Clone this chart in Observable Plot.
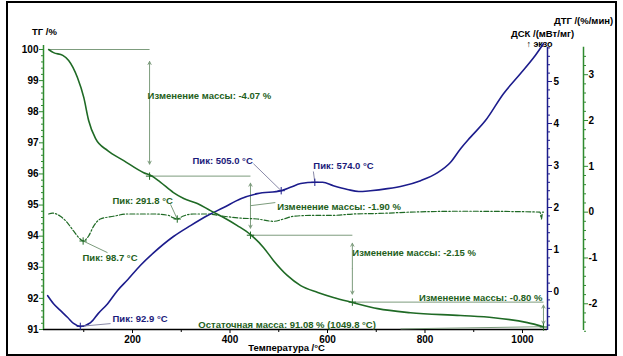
<!DOCTYPE html>
<html><head><meta charset="utf-8">
<script src="https://cdn.jsdelivr.net/npm/d3@7"></script>
<script src="https://cdn.jsdelivr.net/npm/@observablehq/plot@0.6"></script>
<style>
body{margin:0;background:#fff;}
#wrap{position:relative;width:623px;height:356px;overflow:hidden;background:#fff;}
#border{position:absolute;left:6px;top:1px;width:607px;height:351px;border:2px solid #000;pointer-events:none;}
</style></head><body>
<div id="wrap"><div id="border"></div></div>
<script>
// ---- TG (mass, %) ----
const tgTemp = [28, 38, 57, 69, 87, 100, 110, 124, 149, 182, 223, 240, 257, 284, 305, 333, 360, 387, 415, 442, 469, 489, 518, 545, 580, 612, 651, 703, 770, 873, 941, 1010, 1043];
const tgMass = [100.0, 99.90, 99.81, 99.65, 99.10, 98.46, 97.72, 97.14, 96.75, 96.43, 96.04, 95.93, 95.74, 95.40, 95.21, 95.05, 94.82, 94.60, 94.34, 94.05, 93.63, 93.22, 92.73, 92.41, 92.19, 92.03, 91.87, 91.67, 91.54, 91.45, 91.38, 91.22, 91.09];
// ---- DTG (%/min) ----
const dtgTemp = [28, 36, 52, 67, 79, 93, 98.7, 110, 120, 134, 161, 190, 216, 243, 274, 281, 291.8, 303, 325, 354, 387, 422, 456, 489, 510, 530, 571, 612, 653, 700, 770, 873, 1000, 1036, 1039, 1041, 1043];
const dtgVal  = [-0.04, -0.02, -0.09, -0.24, -0.41, -0.59, -0.63, -0.52, -0.31, -0.15, -0.09, -0.04, -0.04, -0.04, -0.07, -0.11, -0.15, -0.09, -0.04, -0.04, -0.09, -0.13, -0.15, -0.20, -0.15, -0.09, -0.07, -0.07, -0.04, -0.03, 0.0, 0.02, 0.01, 0.0, -0.15, 0.0, 0.0];
// ---- DSC (mW/mg) ----
const dscTemp = [26, 38, 52, 67, 79, 92.9, 114, 130, 149, 169, 190, 216, 243, 284, 319, 354, 387, 422, 456, 505, 524, 545, 574, 590, 612, 641, 664, 688, 723, 756, 791, 826, 852, 873, 893, 924, 961, 996, 1023, 1043];
const dscVal  = [-0.10, -0.29, -0.45, -0.62, -0.76, -0.83, -0.74, -0.52, -0.29, 0.02, 0.28, 0.62, 0.92, 1.31, 1.57, 1.81, 2.00, 2.21, 2.33, 2.40, 2.48, 2.57, 2.60, 2.60, 2.52, 2.43, 2.38, 2.40, 2.45, 2.52, 2.64, 2.83, 3.07, 3.40, 3.67, 4.07, 4.71, 5.19, 5.57, 5.90];

// ---- ticks ----
const tgTicks = [91, 92, 93, 94, 95, 96, 97, 98, 99, 100];
const xTicks = [200, 400, 600, 800, 1000];
const xMinor = [100, 300, 500, 700, 900];
const dscTicks = [0, 1, 2, 3, 4, 5];
const dtgTicks = [-2, -1, 0, 1, 2, 3];

// ---- peaks ----
const dscPeakT = [92.9, 505.0, 574.0];
const dscPeakV = [-0.83, 2.40, 2.60];
const dscPeakLabelT = [159, 323, 571];
const dscPeakLabelY = [91.35, 96.43, 96.27];
const dscLeaderT = [155, 448, 571];
const dscLeaderY = [91.19, 96.33, 96.08];
const dtgPeakT = [98.7, 291.8];
const dtgPeakV = [-0.63, -0.15];
const dtgPeakLabelT = [97.4, 159];
const dtgPeakLabelY = [93.31, 95.14];
const dtgLeaderT = [148.7, 278];
const dtgLeaderY = [93.47, 95.02];

// ---- mass steps ----
const massChange = [-4.07, -1.90, -2.15, -0.80];
const stepT = [235, 442, 651, 1043];
const massLabelT = [231, 497, 651, 1041];
const massLabelY = [98.52, 94.95, 93.47, 92.03];
const residualText = "Остаточная масса: 91.08 % (1049.8 °C)";

// colors
const cTG = "#1f6a25", cDSC = "#1c1c8c", cAnn = "#7d9c7d", cTxtG = "#245f1c", cTxtB = "#1a1a7a";

// secondary axes mapped into the TG scale
const dscY = d3.scaleLinear([0, 5], [92.221, 98.971]);
const dtgY = d3.scaleLinear([0, 1], [94.772, 94.772 + 1.4727]);
const xMin = 17.4, xMax = 1051.3, tgTop = 100 + 4 / 31.11;

const levels = [100];
massChange.forEach(c => levels.push(+(levels[levels.length - 1] + c).toFixed(2)));
const hStart = stepT.map((t, i) => i === 0 ? tgTemp[0] : stepT[i - 1]);
const hLevel = levels.slice(0, 4);

const arrowMarks = stepT.flatMap((t, i) => {
  const a = levels[i], b = levels[i + 1], mid = (a + b) / 2;
  const inset = Math.min(12, Math.abs(b - a) * 31.1 * 0.12);
  const o = {stroke: cAnn, strokeWidth: 1, headLength: 5, headAngle: 55, insetEnd: inset};
  return [
    Plot.arrow([0], {x1: t, x2: t, y1: mid, y2: a, ...o}),
    Plot.arrow([0], {x1: t, x2: t, y1: mid, y2: b, ...o})
  ];
});

const minorRange = (lo, hi, step) => d3.range(Math.round(lo / step), Math.round(hi / step) + 1).map(k => +(k * step).toFixed(2));

const chart = Plot.plot({
  width: 623, height: 356,
  marginLeft: 43, marginRight: 76, marginTop: 45, marginBottom: 27,
  x: {domain: [xMin, xMax]},
  y: {domain: [91, tgTop]},
  style: {background: "transparent", fontFamily: "'Liberation Sans', Arial, sans-serif", fontSize: "10px", fontWeight: "bold", color: "#000"},
  marks: [
    // axis lines
    Plot.ruleY([91], {stroke: "#000", strokeWidth: 1.3}),
    Plot.ruleX([xMin], {y1: 91, y2: tgTop, stroke: "#2f8a2f", strokeWidth: 1.5}),
    Plot.ruleX([xMax], {y1: 90.97, y2: tgTop - 0.06, stroke: cDSC, strokeWidth: 1.5}),
    Plot.ruleX([xMax], {y1: 90.97, y2: tgTop - 0.06, dx: 36, stroke: "#2f8a2f", strokeWidth: 1.5}),
    // left TG axis
    Plot.axisY({anchor: "left", ticks: tgTicks, tickSize: 4, tickPadding: 1, stroke: "#2f8a2f", fill: "#000", label: null, tickFormat: d => String(d)}),
    Plot.axisY({anchor: "left", ticks: minorRange(91, 100, 0.2).filter(v => !tgTicks.includes(v)), tickSize: 2, stroke: "#2f8a2f", label: null, tickFormat: () => ""}),
    // x axis
    Plot.axisX({ticks: xTicks, tickSize: 4, tickPadding: 2, stroke: "#000", fill: "#000", label: null, tickFormat: d => String(d)}),
    Plot.axisX({ticks: xMinor, tickSize: 3, stroke: "#000", label: null, tickFormat: () => ""}),
    // DSC axis
    Plot.axisY({anchor: "right", ticks: dscTicks.map(dscY), tickSize: 4, tickPadding: 2, stroke: cDSC, fill: "#000", label: null, tickFormat: d => String(Math.round(dscY.invert(d)))}),
    Plot.axisY({anchor: "right", ticks: minorRange(-0.8, 5.8, 0.2).filter(v => !dscTicks.includes(v)).map(dscY), tickSize: 2, stroke: cDSC, label: null, tickFormat: () => ""}),
    // DTG axis
    Plot.axisY({anchor: "right", dx: 36, ticks: dtgTicks.map(dtgY), tickSize: 4, tickPadding: 1, stroke: "#2f8a2f", fill: "#000", label: null, tickFormat: d => String(Math.round(dtgY.invert(d)))}),
    Plot.axisY({anchor: "right", dx: 36, ticks: minorRange(-2.6, 3.4, 0.2).filter(v => !dtgTicks.includes(v)).map(dtgY), tickSize: 2, stroke: "#2f8a2f", label: null, tickFormat: () => ""}),
    // axis titles
    Plot.text(["ТГ /%"], {frameAnchor: "top-left", dx: 1, dy: -17, textAnchor: "middle", fontSize: 9.5}),
    Plot.text(["ДТГ /(%/мин)"], {frameAnchor: "top-right", dx: 36, dy: -28, textAnchor: "middle", fontSize: 9.5}),
    Plot.text(["ДСК /(мВт/мг)"], {frameAnchor: "top-right", dx: -5, dy: -15, textAnchor: "middle", fontSize: 9.5}),
    Plot.text(["↑ экзо"], {frameAnchor: "top-right", dx: -8, dy: -5, textAnchor: "middle", fontSize: 9}),
    Plot.text(["Температура /°C"], {x: 516, frameAnchor: "bottom", dy: 21, textAnchor: "middle", fontSize: 9.5}),
    // mass-change annotation lines
    Plot.link(stepT, {x1: hStart, x2: stepT, y1: hLevel, y2: hLevel, stroke: cAnn, strokeWidth: 1}),
    ...arrowMarks,
    Plot.link([0], {x1: 442, y1: 94.98, x2: 493, y2: 95.08, stroke: cAnn, strokeWidth: 1}),
    Plot.link([0], {x1: 750, y1: 91.02, x2: 1043, y2: 91.09, stroke: cAnn, strokeWidth: 1}),
    // curves
    Plot.line(dtgTemp, {x: dtgTemp, y: dtgVal.map(dtgY), stroke: cTG, strokeWidth: 1.2, strokeDasharray: "5,2,1.5,2", curve: "monotone-x"}),
    Plot.line(dscTemp, {x: dscTemp, y: dscVal.map(dscY), stroke: cDSC, strokeWidth: 1.6, curve: "monotone-x"}),
    Plot.line(tgTemp, {x: tgTemp, y: tgMass, stroke: cTG, strokeWidth: 1.6, curve: "monotone-x"}),
    // peak leaders
    Plot.link(dscPeakT, {x1: dscPeakT, y1: dscPeakV.map(dscY), x2: dscLeaderT, y2: dscLeaderY, stroke: "#8a8aa8", strokeWidth: 1}),
    Plot.link(dtgPeakT, {x1: dtgPeakT, y1: dtgPeakV.map(dtgY), x2: dtgLeaderT, y2: dtgLeaderY, stroke: cAnn, strokeWidth: 1}),
    Plot.dot(dscPeakT, {x: dscPeakT, y: dscPeakV.map(dscY), symbol: "plus", r: 2.5, stroke: cDSC, strokeWidth: 1}),
    Plot.dot(dtgPeakT, {x: dtgPeakT, y: dtgPeakV.map(dtgY), symbol: "plus", r: 2.5, stroke: cTG, strokeWidth: 1}),
    Plot.dot(stepT, {x: stepT, y: levels.slice(1), symbol: "plus", r: 2.5, stroke: cTG, strokeWidth: 1}),
    // labels
    Plot.text(dscPeakT, {x: dscPeakLabelT, y: dscPeakLabelY, text: dscPeakT.map(t => "Пик: " + t.toFixed(1) + " °C"), textAnchor: "start", fill: cTxtB, fontSize: 9.5}),
    Plot.text(dtgPeakT, {x: dtgPeakLabelT, y: dtgPeakLabelY, text: dtgPeakT.map(t => "Пик: " + t.toFixed(1) + " °C"), textAnchor: "start", fill: cTxtG, fontSize: 9.5}),
    Plot.text(massChange.slice(0, 3), {x: massLabelT.slice(0, 3), y: massLabelY.slice(0, 3), text: massChange.slice(0, 3).map(v => "Изменение массы: " + v.toFixed(2) + " %"), textAnchor: "start", fill: cTxtG, fontSize: 9.5}),
    Plot.text(massChange.slice(3), {x: massLabelT.slice(3), y: massLabelY.slice(3), text: massChange.slice(3).map(v => "Изменение массы: " + v.toFixed(2) + " %"), textAnchor: "end", fill: cTxtG, fontSize: 9.5}),
    Plot.text([residualText], {x: 335, y: 91.16, textAnchor: "start", fill: cTxtG, fontSize: 9.5})
  ]
});
chart.style.position = "absolute";
chart.style.left = "0px";
chart.style.top = "0px";
document.getElementById("wrap").appendChild(chart);
</script>
</body></html>
